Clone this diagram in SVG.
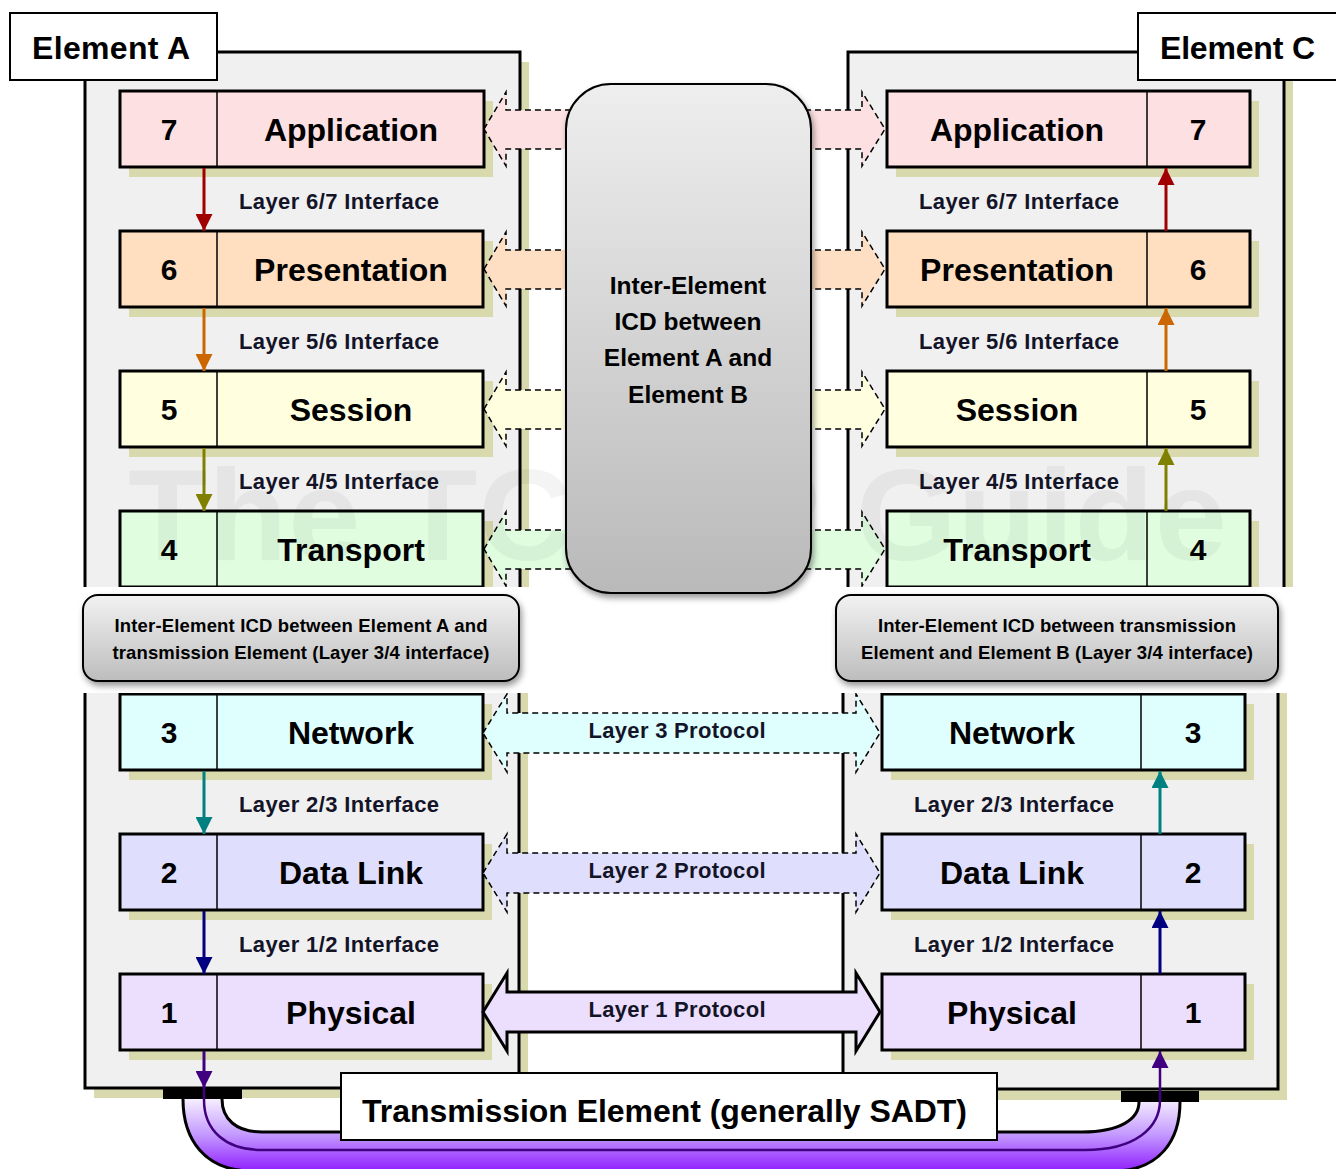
<svg xmlns="http://www.w3.org/2000/svg" width="1336" height="1169" viewBox="0 0 1336 1169">
<style>
text{font-family:"Liberation Sans",Arial,sans-serif;font-weight:bold;fill:#000}
.frame{fill:#f0f0f0;stroke:#000;stroke-width:3}
.fshadow{fill:#d9d9ae}
.box{stroke:#000;stroke-width:3}
.shadow{fill:#d9d9ae}
.div{stroke:#000;stroke-width:1.5}
.num{font-size:30px;text-anchor:middle}
.name{font-size:32px;text-anchor:middle}
.ifl{font-size:22px;fill:#141428}
.proto{stroke:#000;stroke-width:1.5;stroke-dasharray:6 4}
.proto1{stroke:#000;stroke-width:3}
.ptxt{font-size:22px;text-anchor:middle;fill:#141428}
.lbl{fill:#fff;stroke:#000;stroke-width:2}
.icd{stroke:#000;stroke-width:2}
.icdt{font-size:18.5px;text-anchor:middle}
.mid{font-size:24.5px;text-anchor:middle}
.ia{stroke-width:3;fill:none}
.wm{font-size:130px;fill:#000;fill-opacity:0.045}
</style>
<defs>
<linearGradient id="gMid" x1="0" y1="0" x2="0" y2="1"><stop offset="0" stop-color="#eeeeee"/><stop offset="1" stop-color="#b9b9b9"/></linearGradient>
<linearGradient id="gIcd" x1="0" y1="0" x2="0" y2="1"><stop offset="0" stop-color="#f2f2f2"/><stop offset="1" stop-color="#bdbdbd"/></linearGradient>
<linearGradient id="gCable" gradientUnits="userSpaceOnUse" x1="0" y1="1099" x2="0" y2="1169"><stop offset="0" stop-color="#f6efff"/><stop offset="0.5" stop-color="#c49bff"/><stop offset="1" stop-color="#9326ff"/></linearGradient>
<filter id="sh" x="-10%" y="-10%" width="125%" height="130%"><feDropShadow dx="2" dy="4" stdDeviation="3" flood-color="#000" flood-opacity="0.4"/></filter>
<clipPath id="cUp"><rect x="0" y="0" width="1336" height="587"/></clipPath>
<clipPath id="cLo"><rect x="0" y="693" width="1336" height="476"/></clipPath>
<marker id="mRed" viewBox="0 0 17 17" refX="17" refY="8.5" markerWidth="17" markerHeight="17" markerUnits="userSpaceOnUse" orient="auto"><path d="M0,0 L17,8.5 L0,17 z" fill="#a00000"/></marker>
<marker id="mOra" viewBox="0 0 17 17" refX="17" refY="8.5" markerWidth="17" markerHeight="17" markerUnits="userSpaceOnUse" orient="auto"><path d="M0,0 L17,8.5 L0,17 z" fill="#cc6600"/></marker>
<marker id="mOli" viewBox="0 0 17 17" refX="17" refY="8.5" markerWidth="17" markerHeight="17" markerUnits="userSpaceOnUse" orient="auto"><path d="M0,0 L17,8.5 L0,17 z" fill="#808000"/></marker>
<marker id="mTea" viewBox="0 0 17 17" refX="17" refY="8.5" markerWidth="17" markerHeight="17" markerUnits="userSpaceOnUse" orient="auto"><path d="M0,0 L17,8.5 L0,17 z" fill="#008080"/></marker>
<marker id="mNav" viewBox="0 0 17 17" refX="17" refY="8.5" markerWidth="17" markerHeight="17" markerUnits="userSpaceOnUse" orient="auto"><path d="M0,0 L17,8.5 L0,17 z" fill="#000080"/></marker>
<marker id="mPur" viewBox="0 0 17 17" refX="17" refY="8.5" markerWidth="17" markerHeight="17" markerUnits="userSpaceOnUse" orient="auto"><path d="M0,0 L17,8.5 L0,17 z" fill="#400080"/></marker>
</defs>
<rect width="1336" height="1169" fill="#fff"/>

<!-- UPPER PART (layers 7-4) -->
<g id="upper" clip-path="url(#cUp)">
  <g id="frameA-upper">
    <rect class="fshadow" x="94" y="62" width="435" height="1036"/>
    <rect class="frame" x="85" y="52" width="435" height="1036"/>
  </g>
  <g id="frameC-upper">
    <rect class="fshadow" x="857" y="62" width="436" height="1036"/>
    <rect class="frame" x="848" y="52" width="436" height="1036"/>
  </g>

  <g id="A7"><rect class="shadow" x="129" y="101" width="364" height="76"/><rect class="box" x="120" y="91" width="364" height="76" fill="#fde0e1"/><line class="div" x1="217" y1="91" x2="217" y2="167"/><text class="num" x="169" y="140">7</text><text class="name" x="351" y="141">Application</text></g>
  <g id="A6"><rect class="shadow" x="129" y="241" width="364" height="76"/><rect class="box" x="120" y="231" width="363" height="76" fill="#ffdfc0"/><line class="div" x1="217" y1="231" x2="217" y2="307"/><text class="num" x="169" y="280">6</text><text class="name" x="351" y="281">Presentation</text></g>
  <g id="A5"><rect class="shadow" x="129" y="381" width="364" height="76"/><rect class="box" x="120" y="371" width="363" height="76" fill="#ffffe0"/><line class="div" x1="217" y1="371" x2="217" y2="447"/><text class="num" x="169" y="420">5</text><text class="name" x="351" y="421">Session</text></g>
  <g id="A4"><rect class="shadow" x="129" y="521" width="364" height="76"/><rect class="box" x="120" y="511" width="363" height="76" fill="#e0fde0"/><line class="div" x1="217" y1="511" x2="217" y2="587"/><text class="num" x="169" y="560">4</text><text class="name" x="351" y="561">Transport</text></g>

  <g id="C7"><rect class="shadow" x="896" y="101" width="363" height="76"/><rect class="box" x="887" y="91" width="363" height="76" fill="#fde0e1"/><line class="div" x1="1147" y1="91" x2="1147" y2="167"/><text class="name" x="1017" y="141">Application</text><text class="num" x="1198" y="140">7</text></g>
  <g id="C6"><rect class="shadow" x="896" y="241" width="363" height="76"/><rect class="box" x="887" y="231" width="363" height="76" fill="#ffdfc0"/><line class="div" x1="1147" y1="231" x2="1147" y2="307"/><text class="name" x="1017" y="281">Presentation</text><text class="num" x="1198" y="280">6</text></g>
  <g id="C5"><rect class="shadow" x="896" y="381" width="363" height="76"/><rect class="box" x="887" y="371" width="363" height="76" fill="#ffffe0"/><line class="div" x1="1147" y1="371" x2="1147" y2="447"/><text class="name" x="1017" y="421">Session</text><text class="num" x="1198" y="420">5</text></g>
  <g id="C4"><rect class="shadow" x="896" y="521" width="363" height="76"/><rect class="box" x="887" y="511" width="363" height="76" fill="#e0fde0"/><line class="div" x1="1147" y1="511" x2="1147" y2="587"/><text class="name" x="1017" y="561">Transport</text><text class="num" x="1198" y="560">4</text></g>

  <g id="connectors-upper">
    <line class="ia" x1="204" y1="168" x2="204" y2="231" stroke="#a00000" marker-end="url(#mRed)"/>
    <line class="ia" x1="204" y1="308" x2="204" y2="371" stroke="#cc6600" marker-end="url(#mOra)"/>
    <line class="ia" x1="204" y1="448" x2="204" y2="511" stroke="#808000" marker-end="url(#mOli)"/>
    <line class="ia" x1="1166" y1="231" x2="1166" y2="168" stroke="#a00000" marker-end="url(#mRed)"/>
    <line class="ia" x1="1166" y1="371" x2="1166" y2="308" stroke="#cc6600" marker-end="url(#mOra)"/>
    <line class="ia" x1="1166" y1="511" x2="1166" y2="448" stroke="#808000" marker-end="url(#mOli)"/>
    <path class="proto" fill="#fde0e1" d="M484,129 L506,92 L506,110 L862,110 L862,92 L885,129 L862,166 L862,149 L506,149 L506,166 Z"/>
    <path class="proto" fill="#ffdfc4" d="M484,269 L506,232 L506,250 L862,250 L862,232 L885,269 L862,306 L862,289 L506,289 L506,306 Z"/>
    <path class="proto" fill="#ffffe0" d="M484,409 L506,372 L506,390 L862,390 L862,372 L885,409 L862,446 L862,429 L506,429 L506,446 Z"/>
    <path class="proto" fill="#e0fde0" d="M484,549 L506,512 L506,530 L862,530 L862,512 L885,549 L862,586 L862,569 L506,569 L506,586 Z"/>
  </g>
  <text class="ifl" x="239" y="209" textLength="200">Layer 6/7 Interface</text>
  <text class="ifl" x="239" y="349" textLength="200">Layer 5/6 Interface</text>
  <text class="ifl" x="239" y="489" textLength="200">Layer 4/5 Interface</text>
  <text class="ifl" x="919" y="209" textLength="200">Layer 6/7 Interface</text>
  <text class="ifl" x="919" y="349" textLength="200">Layer 5/6 Interface</text>
  <text class="ifl" x="919" y="489" textLength="200">Layer 4/5 Interface</text>

  <text class="wm" x="128" y="560" textLength="1099">The TCP/IP Guide</text>
</g>

<!-- LOWER PART (layers 3-1) -->
<g id="lower" clip-path="url(#cLo)">
  <g id="frameA-lower">
    <rect class="fshadow" x="94" y="610" width="434" height="488"/>
    <rect class="frame" x="85" y="600" width="434" height="488"/>
  </g>
  <g id="frameC-lower">
    <rect class="fshadow" x="852" y="612" width="435" height="488"/>
    <rect class="frame" x="843" y="602" width="435" height="487"/>
  </g>

  <g id="A3"><rect class="shadow" x="129" y="704" width="363" height="76"/><rect class="box" x="120" y="694" width="363" height="76" fill="#dfffff"/><line class="div" x1="217" y1="694" x2="217" y2="770"/><text class="num" x="169" y="743">3</text><text class="name" x="351" y="744">Network</text></g>
  <g id="A2"><rect class="shadow" x="129" y="844" width="363" height="76"/><rect class="box" x="120" y="834" width="363" height="76" fill="#dfdffd"/><line class="div" x1="217" y1="834" x2="217" y2="910"/><text class="num" x="169" y="883">2</text><text class="name" x="351" y="884">Data Link</text></g>
  <g id="A1"><rect class="shadow" x="129" y="984" width="363" height="76"/><rect class="box" x="120" y="974" width="363" height="76" fill="#ecdffd"/><line class="div" x1="217" y1="974" x2="217" y2="1050"/><text class="num" x="169" y="1023">1</text><text class="name" x="351" y="1024">Physical</text></g>

  <g id="C3"><rect class="shadow" x="891" y="704" width="363" height="76"/><rect class="box" x="882" y="694" width="363" height="76" fill="#dfffff"/><line class="div" x1="1141" y1="694" x2="1141" y2="770"/><text class="name" x="1012" y="744">Network</text><text class="num" x="1193" y="743">3</text></g>
  <g id="C2"><rect class="shadow" x="891" y="844" width="363" height="76"/><rect class="box" x="882" y="834" width="363" height="76" fill="#dfdffd"/><line class="div" x1="1141" y1="834" x2="1141" y2="910"/><text class="name" x="1012" y="884">Data Link</text><text class="num" x="1193" y="883">2</text></g>
  <g id="C1"><rect class="shadow" x="891" y="984" width="363" height="76"/><rect class="box" x="882" y="974" width="363" height="76" fill="#ecdffd"/><line class="div" x1="1141" y1="974" x2="1141" y2="1050"/><text class="name" x="1012" y="1024">Physical</text><text class="num" x="1193" y="1023">1</text></g>

  <g id="connectors-lower">
    <line class="ia" x1="204" y1="771" x2="204" y2="834" stroke="#008080" marker-end="url(#mTea)"/>
    <line class="ia" x1="204" y1="911" x2="204" y2="974" stroke="#000080" marker-end="url(#mNav)"/>
    <line class="ia" x1="204" y1="1051" x2="204" y2="1088" stroke="#400080" marker-end="url(#mPur)"/>
    <line class="ia" x1="1160" y1="834" x2="1160" y2="771" stroke="#008080" marker-end="url(#mTea)"/>
    <line class="ia" x1="1160" y1="974" x2="1160" y2="911" stroke="#000080" marker-end="url(#mNav)"/>
    <path class="proto" fill="#dfffff" d="M483,733 L507,694 L507,713 L856,713 L856,694 L880,733 L856,772 L856,753 L507,753 L507,772 Z"/>
    <path class="proto" fill="#dfdffd" d="M483,873 L507,834 L507,853 L856,853 L856,834 L880,873 L856,912 L856,893 L507,893 L507,912 Z"/>
    <path class="proto1" fill="#ecdffd" d="M483,1012 L507,973 L507,992 L856,992 L856,973 L880,1012 L856,1051 L856,1032 L507,1032 L507,1051 Z"/>
  </g>
  <text class="ptxt" x="677" y="738" textLength="177">Layer 3 Protocol</text>
  <text class="ptxt" x="677" y="878" textLength="177">Layer 2 Protocol</text>
  <text class="ptxt" x="677" y="1017" textLength="177">Layer 1 Protocol</text>
  <text class="ifl" x="239" y="812" textLength="200">Layer 2/3 Interface</text>
  <text class="ifl" x="239" y="952" textLength="200">Layer 1/2 Interface</text>
  <text class="ifl" x="914" y="812" textLength="200">Layer 2/3 Interface</text>
  <text class="ifl" x="914" y="952" textLength="200">Layer 1/2 Interface</text>
</g>

<!-- Cable -->
<g id="cable">
  <path d="M183,1099 C183,1140 205,1170 250,1171 L1115,1171 C1160,1170 1180,1140 1180,1102 L1139,1102 C1139,1119 1120,1132 1082,1132 L262,1132 C236,1132 222,1119 222,1099 Z" fill="url(#gCable)" stroke="none"/>
  <path d="M183,1099 C183,1140 205,1170 250,1171 L1115,1171 C1160,1170 1180,1140 1180,1102" fill="none" stroke="#000" stroke-width="3"/>
  <path d="M222,1099 C222,1119 236,1132 262,1132 L1082,1132 C1120,1132 1139,1119 1139,1102" fill="none" stroke="#000" stroke-width="3"/>
  <rect x="163" y="1089" width="79" height="10" fill="#000"/>
  <rect x="1121" y="1091" width="78" height="11" fill="#000"/>
  <path d="M204,1088 L204,1100 C204,1130 225,1150 262,1150 L1085,1150 C1135,1150 1160,1128 1160,1100 L1160,1051" fill="none" stroke="#400080" stroke-width="2.5" marker-end="url(#mPur)"/>
</g>

<g id="transmission">
  <rect class="lbl" x="341" y="1073" width="656" height="67"/>
  <text x="362" y="1122" font-size="32" textLength="605">Transmission Element (generally SADT)</text>
</g>

<g id="elementA-label">
  <rect class="lbl" x="10" y="13" width="207" height="67"/>
  <text x="32" y="59" font-size="32" textLength="158">Element A</text>
</g>
<g id="elementC-label">
  <rect class="lbl" x="1138" y="13" width="204" height="67"/>
  <text x="1160" y="59" font-size="32" textLength="155">Element C</text>
</g>

<g id="icd-AB">
  <rect class="icd" x="566" y="84" width="245" height="509" rx="45" fill="url(#gMid)" filter="url(#sh)"/>
  <text class="mid" x="688" y="294">Inter-Element</text>
  <text class="mid" x="688" y="330">ICD between</text>
  <text class="mid" x="688" y="366">Element A and</text>
  <text class="mid" x="688" y="403">Element B</text>
</g>
<g id="icd-A-trans">
  <rect class="icd" x="83" y="595" width="436" height="86" rx="15" fill="url(#gIcd)" filter="url(#sh)"/>
  <text class="icdt" x="301" y="632" textLength="373">Inter-Element ICD between Element A and</text>
  <text class="icdt" x="301" y="659" textLength="377">transmission Element (Layer 3/4 interface)</text>
</g>
<g id="icd-trans-B">
  <rect class="icd" x="836" y="595" width="442" height="86" rx="15" fill="url(#gIcd)" filter="url(#sh)"/>
  <text class="icdt" x="1057" y="632" textLength="358">Inter-Element ICD between transmission</text>
  <text class="icdt" x="1057" y="659" textLength="392">Element and Element B (Layer 3/4 interface)</text>
</g>
</svg>
